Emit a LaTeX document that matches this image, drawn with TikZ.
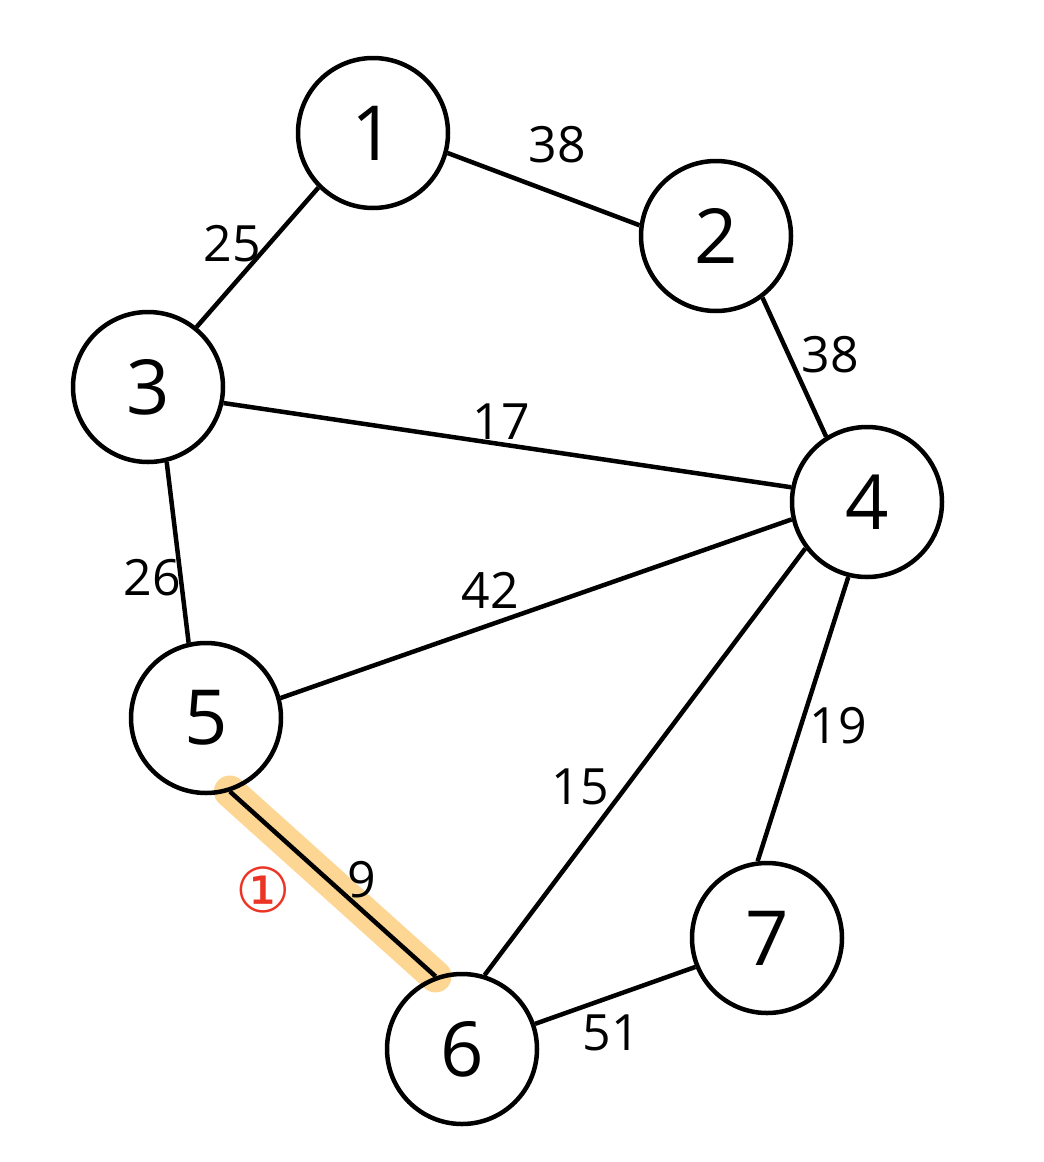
\documentclass[tikz,border=0pt]{standalone}
\usepackage{fontspec}
\usetikzlibrary{backgrounds}
\setmainfont{Open Sans}
\newfontfamily\symfont{DejaVu Sans}
\definecolor{hl}{RGB}{253,214,148}
\definecolor{redmark}{RGB}{236,52,36}
\begin{document}
\begin{tikzpicture}[x=1pt,y=-1pt,
  vertex/.style={circle,draw,line width=4.5pt,minimum size=150pt,inner sep=0pt,
    font=\fontsize{76}{80}\selectfont},
  edge/.style={line width=4.5pt},
  wlabel/.style={font=\fontsize{50}{52}\selectfont,inner sep=0pt}]
\useasboundingbox (0,0) rectangle (1044,1162);
% vertices
\node[vertex] (n1) at (373,133) {1};
\node[vertex] (n2) at (716,236) {2};
\node[vertex] (n3) at (148,387) {3};
\node[vertex] (n4) at (867,502) {4};
\node[vertex] (n5) at (206,718) {5};
\node[vertex] (n6) at (462,1049) {6};
\node[vertex] (n7) at (767,938) {7};
% highlight of edge 5-6, under everything
\begin{scope}[on background layer]
\draw[hl,line width=32pt,line cap=round] (n5.-72) -- (n6.110);
\end{scope}
% edges
\draw[edge] (n1.-15) -- (n2.172);
\draw[edge] (n1.-135) -- (n3.51);
\draw[edge] (n2.-53) -- (n4.122);
\draw[edge] (n3.-12.6) -- (n4.169.6);
\draw[edge] (n3.-76) -- (n5.103);
\draw[edge] (n4.-167) -- (n5.15);
\draw[edge] (n4.-143) -- (n6.73.5);
\draw[edge] (n4.-104) -- (n7.97.5);
\draw[edge] (n5.-72) -- (n6.110);
\draw[edge] (n6.19) -- (n7.-158);
% weights
\node[wlabel] (w12) at (557,145) {38};
\node[wlabel] (w13) at (232,244) {25};
\node[wlabel] (w24) at (830,355) {38};
\node[wlabel] (w34) at (501,422) {17};
\node[wlabel] (w35) at (152,578) {26};
\node[wlabel] (w45) at (490,590) {42};
\node[wlabel] (w47) at (838,726) {19};
\node[wlabel] (w46) at (580,787) {15};
\node[wlabel] (w56) at (362,880) {9};
\node[wlabel] (w67) at (611,1033) {51};
\node[text=redmark,font=\symfont\fontsize{62}{64}\selectfont,inner sep=0pt] (mark) at (263,890) {①};
\end{tikzpicture}
\end{document}
